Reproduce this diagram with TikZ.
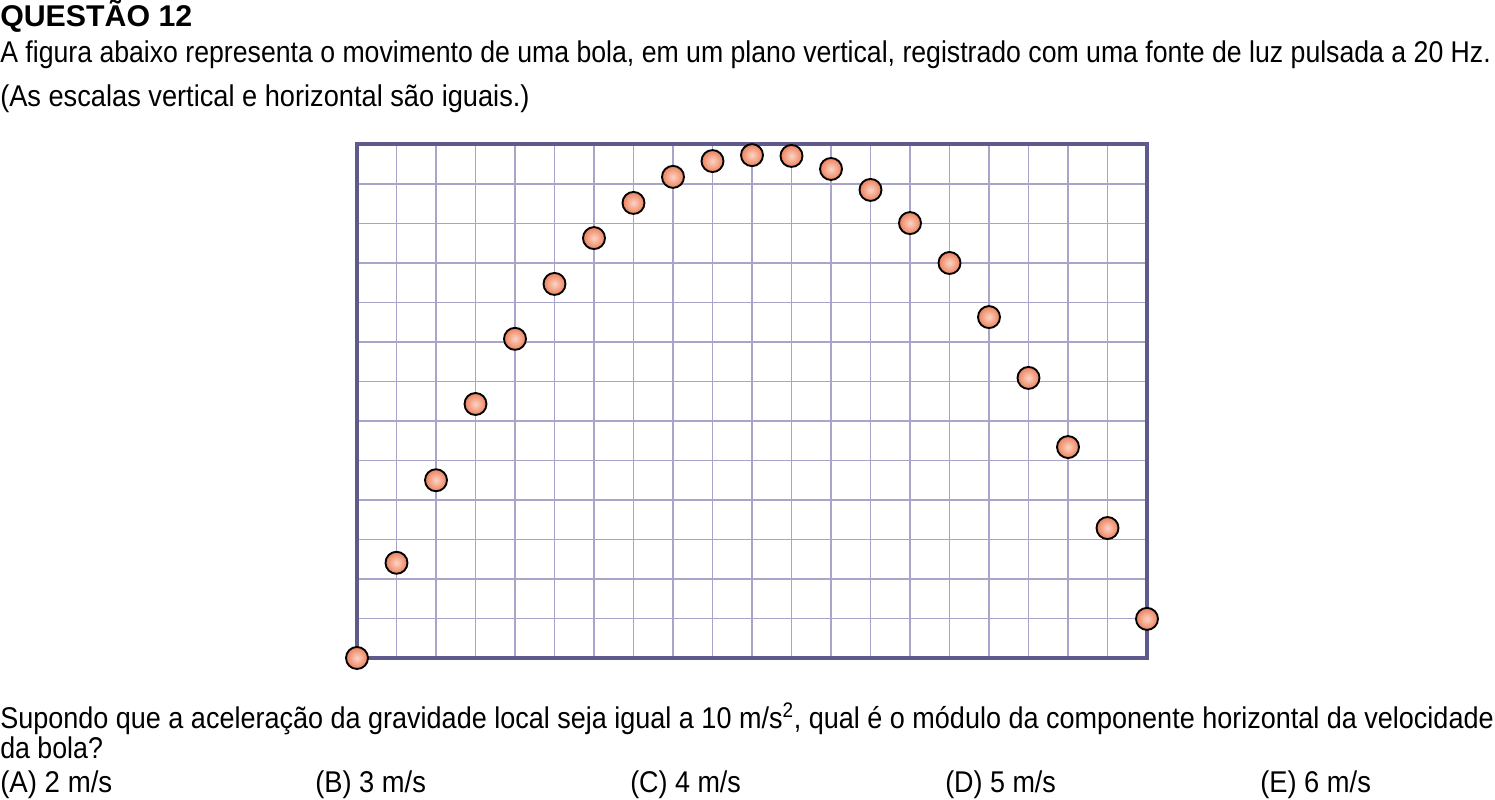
\documentclass[tikz,border=0pt]{standalone}
\usepackage{fontspec}
\usepackage{graphicx}
\setmainfont{Liberation Sans}
\definecolor{framec}{RGB}{94,90,140}
\definecolor{gridc}{RGB}{168,164,202}
\definecolor{ballin}{RGB}{252,212,196}
\definecolor{ballout}{RGB}{236,128,92}
% linha com largura fixa (texto condensado)
\newcommand{\fitline}[2]{\resizebox{#1}{\height}{#2}}
\tikzset{
  txt/.style={anchor=base west, inner sep=0pt, font=\fontsize{22.5}{27}\selectfont},
  ball/.style={circle, draw=black, line width=1.4pt, inner sep=0pt, minimum size=16.5pt,
    inner color=ballin, outer color=ballout}
}
\begin{document}
\begin{tikzpicture}[x=29.625pt, y=29.625pt]
\useasboundingbox (-9.038,-3.595) rectangle (28.810,16.658);
% enunciado
\node[txt, font=\fontsize{22.5}{27}\selectfont\bfseries] (tit) at (-9.038,15.975) {\fitline{144pt}{QUESTÃO 12}};
\node[txt] (l1) at (-9.038,15.063) {\fitline{1118pt}{A figura abaixo representa o movimento de uma bola, em um plano vertical, registrado com uma fonte de luz pulsada a 20 Hz.}};
\node[txt] (l2) at (-9.038,13.949) {\fitline{397pt}{(As escalas vertical e horizontal são iguais.)}};
% grade
\draw[gridc, line width=1.2pt, step={(1,1)}] (0,0) grid (20,13);
\draw[framec, line width=3pt] (0,0) rectangle (20,13);
% bola
\foreach \h [count=\i from 0] in {0,2.41,4.5,6.43,8.08,9.47,10.63,11.52,12.18,12.58,12.73,12.71,12.38,11.85,11.01,10.0,8.63,7.09,5.34,3.29,0.99}
  \node[ball] (b\i) at (\i,\h) {};
% pergunta
\node[txt] (p1) at (-9.038,-1.773) {\fitline{1120pt}{Supondo que a aceleração da gravidade local seja igual a 10 m/s\textsuperscript{2}, qual é o módulo da componente horizontal da velocidade}};
\node[txt] (p2) at (-9.038,-2.532) {\fitline{77pt}{da bola?}};
\node[txt] (oa) at (-9.038,-3.418) {\fitline{84pt}{(A) 2 m/s}};
\node[txt] (ob) at (-1.063,-3.418) {\fitline{83pt}{(B) 3 m/s}};
\node[txt] (oc) at (6.911,-3.418) {\fitline{83pt}{(C) 4 m/s}};
\node[txt] (od) at (14.886,-3.418) {\fitline{83pt}{(D) 5 m/s}};
\node[txt] (oe) at (22.861,-3.418) {\fitline{83pt}{(E) 6 m/s}};
\end{tikzpicture}
\end{document}
